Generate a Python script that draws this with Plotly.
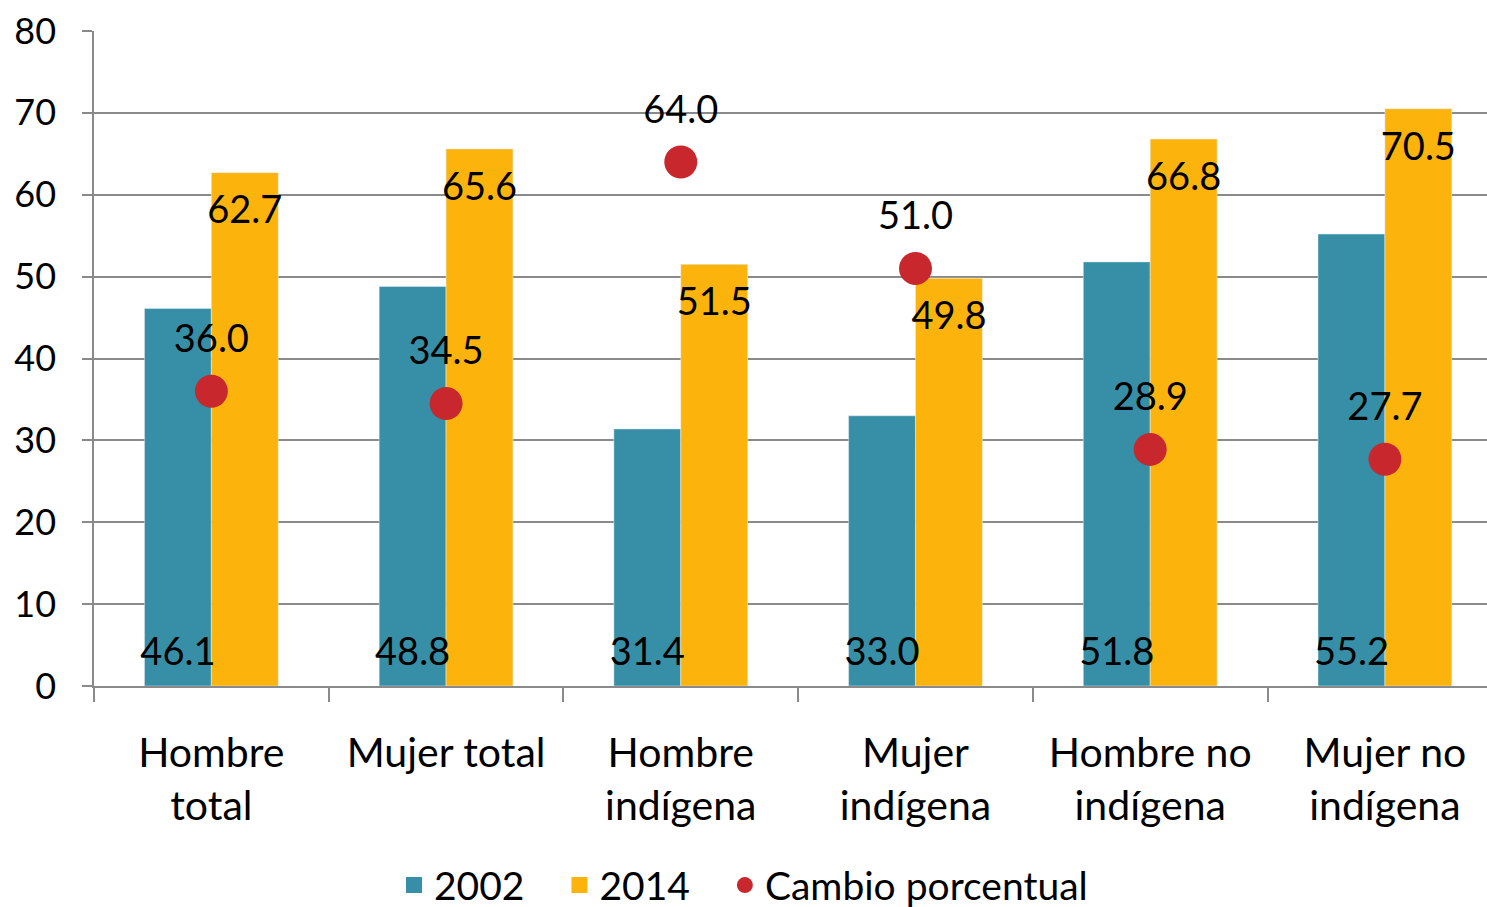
import plotly.graph_objects as go

categories = ["Hombre<br>total", "Mujer total", "Hombre<br>indígena", "Mujer<br>indígena",
              "Hombre no<br>indígena", "Mujer no<br>indígena"]
v2002 = [46.1, 48.8, 31.4, 33.0, 51.8, 55.2]
v2014 = [62.7, 65.6, 51.5, 49.8, 66.8, 70.5]
cambio = [36.0, 34.5, 64.0, 51.0, 28.9, 27.7]
legend_names = ["2002", "2014", "Cambio porcentual"]

FONT = "Lato"
LBL = dict(family=FONT, size=38, color="black")
C2002, C2014, CRED = "#368FA6", "#FCB40C", "#C8282D"
GAP = 0.43
XRANGE = [-0.5, 5.435]
PAD = "\u00a0" * 3

fig = go.Figure()
fig.add_trace(go.Bar(x=categories, y=v2002, name=legend_names[0], marker_color=C2002,
                     offsetgroup="a", alignmentgroup="g1", hoverinfo="skip", showlegend=False))
fig.add_trace(go.Bar(x=categories, y=v2014, name=legend_names[1], marker_color=C2014,
                     offsetgroup="b", alignmentgroup="g1", hoverinfo="skip", showlegend=False))

# value labels for the bars (grouped scatter so they sit over each bar)
fig.add_trace(go.Scatter(
    x=categories, y=[0] * len(v2002), mode="markers+text", offsetgroup="a", alignmentgroup="g1",
    marker=dict(size=17, opacity=0), text=[f"{v:.1f}" for v in v2002],
    textposition="top center", textfont=LBL, showlegend=False, cliponaxis=False,
))
fig.add_trace(go.Scatter(
    x=categories, y=v2014, mode="markers+text", offsetgroup="b", alignmentgroup="g1",
    marker=dict(size=34, opacity=0), text=[f"{v:.1f}" for v in v2014],
    textposition="bottom center", textfont=LBL, showlegend=False, cliponaxis=False,
))

# legend proxies (larger square symbols)
fig.add_trace(go.Scatter(x=[None], y=[None], name=legend_names[0] + PAD, mode="markers",
                         xaxis="x2", offsetgroup="c", alignmentgroup="g2",
                         marker=dict(symbol="square", size=16, color=C2002)))
fig.add_trace(go.Scatter(x=[None], y=[None], name=legend_names[1] + PAD, mode="markers",
                         xaxis="x2", offsetgroup="c", alignmentgroup="g2",
                         marker=dict(symbol="square", size=16, color=C2014)))

# percentage change dots on an overlaid x axis so they are centered in each category
fig.add_trace(go.Scatter(
    x=categories, y=cambio, name=legend_names[2], mode="markers", xaxis="x2",
    offsetgroup="c", alignmentgroup="g2", marker=dict(color=CRED, size=33), cliponaxis=False,
))
fig.add_trace(go.Scatter(
    x=categories, y=cambio, mode="markers+text", xaxis="x2", offsetgroup="c", alignmentgroup="g2",
    marker=dict(size=46, opacity=0), text=[f"{v:.1f}" for v in cambio],
    textposition="top center", textfont=LBL, showlegend=False, cliponaxis=False,
))

fig.update_layout(
    width=1487, height=907,
    margin=dict(l=94, r=0, t=31, b=221),
    plot_bgcolor="white", paper_bgcolor="white",
    barmode="group", bargap=GAP, bargroupgap=0,
    scattermode="group", scattergap=GAP,
    font=dict(family=FONT, size=34, color="black"),
    showlegend=True,
    legend=dict(orientation="h", xref="container", yref="container",
                x=0.5, xanchor="center", y=0.024, yanchor="middle",
                font=dict(family=FONT, size=39, color="black"), traceorder="normal"),
    xaxis2=dict(overlaying="x", visible=False, type="category", range=XRANGE,
                categoryorder="array", categoryarray=categories),
)
fig.update_layout(xaxis=dict(
    range=XRANGE, type="category", categoryorder="array", categoryarray=categories,
    tickson="boundaries", ticks="outside", ticklen=14,
    tickcolor="#8a8a8a", tickwidth=1.5, showline=True, linecolor="#8a8a8a", linewidth=1.5,
    tickfont=dict(family=FONT, size=41, color="black"), showgrid=False,
    automargin=False, ticklabelstandoff=30,
))
fig.update_yaxes(
    range=[0, 80], dtick=10, showgrid=True, gridcolor="#8a8a8a", gridwidth=1.5,
    showline=True, linecolor="#8a8a8a", linewidth=1.5, ticks="outside", ticklen=10,
    tickcolor="#8a8a8a", tickwidth=1.5, zeroline=False, automargin=False,
    ticklabelstandoff=19,
    tickfont=dict(family=FONT, size=36, color="black"),
)
fig.write_html("out.html", config={"displayModeBar": False},
               post_script="document.body.style.margin='0';document.body.style.overflow='hidden';")
